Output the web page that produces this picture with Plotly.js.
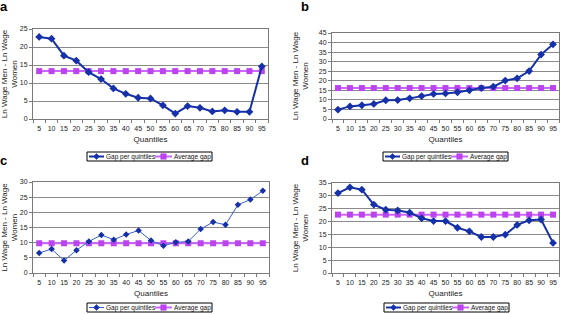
<!DOCTYPE html>
<html><head><meta charset="utf-8">
<script src="https://cdn.plot.ly/plotly-3.0.1.min.js"></script>
<style>html,body{margin:0;padding:0;background:#fff}#chart{width:561px;height:314px}</style>
</head><body><div id="chart"></div>
<script>
const quantiles = ['5','10','15','20','25','30','35','40','45','50','55','60','65','70','75','80','85','90','95'];
const gapA = [22.8,22.3,17.6,16.2,13.0,11.1,8.5,7.0,5.9,5.7,3.8,1.5,3.6,3.1,2.1,2.4,2.0,2.0,14.6];
const avgA = 13.3;
const gapB = [4.9,6.6,7.2,7.9,9.8,9.9,10.8,12.0,13.1,13.4,14.0,15.0,16.2,16.9,20.1,21.3,25.1,33.7,39.1];
const avgB = 16.2;
const gapC = [6.6,7.9,4.1,7.5,10.4,12.5,11.0,12.7,14.0,10.7,9.0,10.1,10.4,14.5,16.8,15.9,22.5,24.2,27.1];
const avgC = 9.8;
const gapD = [31.1,33.3,32.4,26.6,24.6,24.3,23.5,21.3,20.2,20.2,17.6,16.2,14.0,14.0,14.9,18.7,20.5,20.8,11.7];
const avgD = 22.7;
const yMax = [25,45,30,35];
const panelLetters = ['a','b','c','d'];
const seriesNames = ['Gap per quintiles','Average gap'];
const xTitle = 'Quantiles';
const yTitle = 'Ln Wage Men - Ln Wage<br>Women';

const gaps = [gapA,gapB,gapC,gapD];
const avgs = [avgA,avgB,avgC,avgD];

const W = 561, H = 314;
const boxes = [[33,268,29,119],[332,559,33,119],[33,269,182,273],[332,559,183,273]];
const legendBox = [[87,152],[383,152],[87,303],[384,303]];
const letterPos = [[4,7],[305,7],[4,160],[305,160]];

const blue = '#1530a8', blueC = '#3b5fd0';
const avgLine = '#cc66ff', avgMarker = '#bb44ee';
const font = 'Liberation Sans, Arial, sans-serif';

const px = v => v / W, py = v => 1 - v / H;

const data = [];
const shapes = [];
const annotations = [];
const layout = {
  width: W, height: H, margin: {l:0,r:0,t:0,b:0},
  paper_bgcolor: '#fff', plot_bgcolor: '#fff', showlegend: false,
  font: {family: font, size: 7, color: '#222'}
};
for (let i = 0; i < 4; i++) {
  const n = i === 0 ? '' : String(i+1);
  const xa = 'x' + n, ya = 'y' + n;
  const avgArr = quantiles.map(() => avgs[i]);
  const gLine = {color: i === 2 ? blueC : blue, width: i === 2 ? 1 : 2};
  const gMarker = {symbol: 'diamond', size: i === 2 ? 5 : 6, color: blue};
  data.push({
    x: quantiles, y: avgArr, xaxis: xa, yaxis: ya,
    name: seriesNames[1], type: 'scatter', mode: 'lines+markers',
    line: {color: avgLine, width: 2}, marker: {symbol: 'square', size: 6, color: avgMarker}
  });
  data.push({
    x: quantiles, y: gaps[i], xaxis: xa, yaxis: ya,
    name: seriesNames[0], type: 'scatter', mode: 'lines+markers',
    line: gLine, marker: gMarker
  });
  const b = boxes[i];
  layout['xaxis' + n] = {
    domain: [px(b[0]), px(b[1])], anchor: ya, type: 'category',
    range: [-0.5, 18.5], showgrid: false, zeroline: false,
    showline: true, linecolor: '#7a7a7a', linewidth: 1, mirror: true,
    ticks: 'outside', ticklen: 3, tickcolor: '#7a7a7a', tickson: 'boundaries',
    tickangle: 0, automargin: false, ticklabelstandoff: 3,
    tickfont: {size: 7, color: '#222', family: font},
    title: {text: xTitle, font: {size: 8, color: '#222', family: font}, standoff: 4}
  };
  layout['yaxis' + n] = {
    domain: [py(b[3]), py(b[2])], anchor: xa,
    range: [0, yMax[i]], dtick: 5, showgrid: true, gridcolor: '#8a8a8a', gridwidth: 1,
    zeroline: false, showline: true, linecolor: '#7a7a7a', linewidth: 1, mirror: true,
    ticks: 'outside', ticklen: 3, tickcolor: '#7a7a7a', automargin: false,
    tickfont: {size: 7, color: '#222', family: font},
    title: {text: yTitle, font: {size: 8, color: '#222', family: font}, standoff: 8}
  };
  // legend box (drawn by hand, Excel style)
  const L = legendBox[i][0], T = legendBox[i][1], LW = 125, LH = 9, cy = T + LH / 2;
  shapes.push({type: 'rect', xref: 'paper', yref: 'paper', x0: px(L), x1: px(L + LW), y0: py(T), y1: py(T + LH),
    line: {color: '#000', width: 1}, fillcolor: '#fff', layer: 'above'});
  shapes.push({type: 'line', xref: 'paper', yref: 'paper', x0: px(L + 2), x1: px(L + 17), y0: py(cy), y1: py(cy),
    line: {color: gLine.color, width: gLine.width}, layer: 'above'});
  const dx = L + 9.5, ds = 3;
  shapes.push({type: 'path', xref: 'paper', yref: 'paper',
    path: `M ${px(dx)} ${py(cy - ds)} L ${px(dx + ds)} ${py(cy)} L ${px(dx)} ${py(cy + ds)} L ${px(dx - ds)} ${py(cy)} Z`,
    fillcolor: blue, line: {color: blue, width: 0.5}, layer: 'above'});
  annotations.push({text: seriesNames[0], xref: 'paper', yref: 'paper', x: px(L + 17.5), y: py(cy + 0.3),
    xanchor: 'left', yanchor: 'middle', showarrow: false, borderpad: 0,
    font: {size: 6.5, color: '#111', family: font}});
  shapes.push({type: 'line', xref: 'paper', yref: 'paper', x0: px(L + 68), x1: px(L + 85), y0: py(cy), y1: py(cy),
    line: {color: avgLine, width: 2}, layer: 'above'});
  const sx = L + 76.5, ss = 2.8;
  shapes.push({type: 'rect', xref: 'paper', yref: 'paper', x0: px(sx - ss), x1: px(sx + ss), y0: py(cy + ss), y1: py(cy - ss),
    fillcolor: avgMarker, line: {color: avgMarker, width: 0.5}, layer: 'above'});
  annotations.push({text: seriesNames[1], xref: 'paper', yref: 'paper', x: px(L + 85.5), y: py(cy + 0.3),
    xanchor: 'left', yanchor: 'middle', showarrow: false, borderpad: 0,
    font: {size: 6.5, color: '#111', family: font}});
  const tp = letterPos[i];
  annotations.push({
    text: '<b>' + panelLetters[i] + '</b>', xref: 'paper', yref: 'paper',
    x: px(tp[0]), y: py(tp[1]), xanchor: 'center', yanchor: 'middle',
    showarrow: false, font: {size: 13, color: '#000', family: font}
  });
}
layout.shapes = shapes;
layout.annotations = annotations;
Plotly.newPlot('chart', data, layout, {displayModeBar: false, staticPlot: true});
</script></body></html>
